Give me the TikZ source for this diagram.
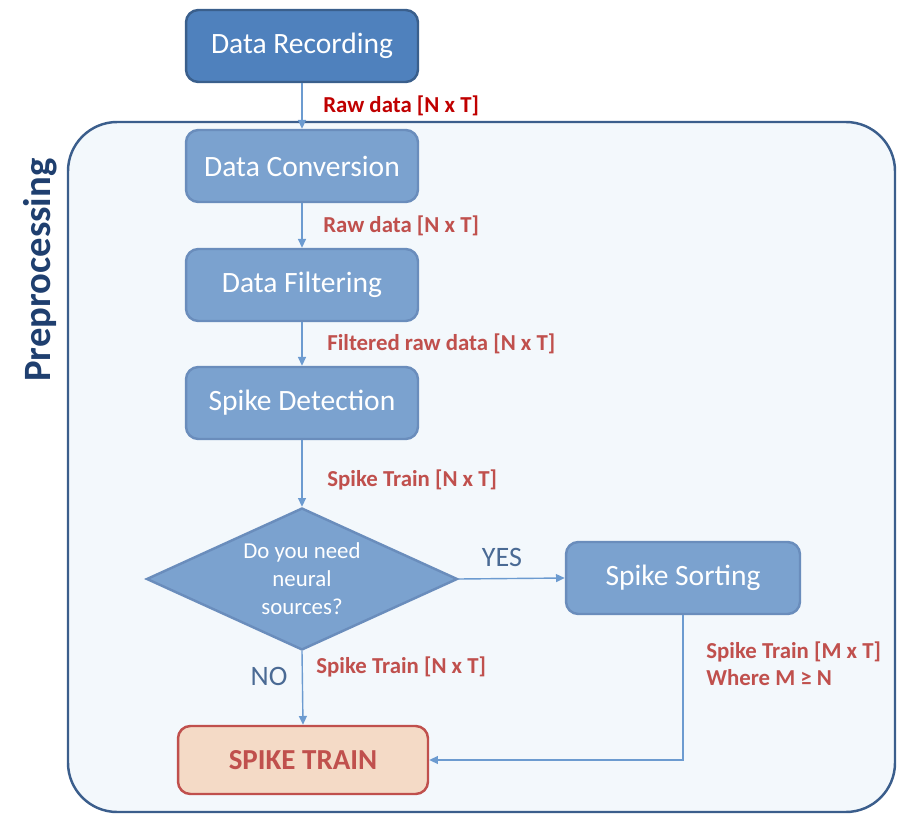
\documentclass[tikz,border=0pt]{standalone}
\usepackage{fontspec}
\setmainfont{Carlito}
\usetikzlibrary{shapes.geometric,arrows.meta}

\definecolor{recblue}{HTML}{4F81BD}
\definecolor{recedge}{HTML}{3A5F8C}
\definecolor{stepblue}{HTML}{7BA2CF}
\definecolor{stepedge}{HTML}{6A8DBC}
\definecolor{boxfill}{HTML}{F3F8FC}
\definecolor{boxedge}{HTML}{3B5E8C}
\definecolor{flowblue}{HTML}{6C9BD0}
\definecolor{datared}{HTML}{C0504D}
\definecolor{darkred}{HTML}{C00000}
\definecolor{answer}{HTML}{4A6A94}
\definecolor{trainfill}{HTML}{F4DAC6}
\definecolor{prepblue}{HTML}{1F3F6F}

\tikzset{
  stage/.style={rectangle, rounded corners=7pt, fill=stepblue, draw=stepedge, line width=1.4pt,
    minimum width=4.64cm, minimum height=1.44cm, text=white, font=\fontsize{16.8}{19}\selectfont},
  datalabel/.style={anchor=west, text=datared, font=\fontsize{13}{15.3}\selectfont\bfseries, align=left, inner sep=0pt},
  answerlabel/.style={text=answer, font=\fontsize{16}{18}\selectfont, inner sep=0pt},
  flow/.style={draw=flowblue, line width=0.8pt, -{Triangle[length=5pt,width=4.5pt]}}
}

\begin{document}
\begin{tikzpicture}[x=0.02cm, y=-0.02cm]
    \useasboundingbox (0,0) rectangle (912,827);

    % Preprocessing frame
    \draw[fill=boxfill, draw=boxedge, line width=1.4pt, rounded corners=28pt] (68,122) rectangle (895,812);
    \node[rotate=90, text=prepblue, font=\fontsize{22}{25}\selectfont\bfseries] (prep) at (40,270) {Preprocessing};

    % Stages
    \node[stage, fill=recblue, draw=recedge] (rec) at (302,46) {Data Recording};
    \node[stage] (conv) at (302,166) {Data Conversion};
    \node[stage] (filt) at (302,285) {Data Filtering};
    \node[stage] (det) at (302,403) {Spike Detection};
    \node[diamond, aspect=2.19, fill=stepblue, draw=stepedge, line width=1.4pt, inner sep=0pt,
      minimum width=6.22cm, minimum height=2.84cm, text=white, align=center,
      font=\fontsize{13}{15.9}\selectfont] (need) at (302,579) {Do you need\\neural\\sources?};
    \node[stage, minimum width=4.68cm] (sort) at (683,578) {Spike Sorting};
    \node[rectangle, rounded corners=7pt, fill=trainfill, draw=datared, line width=1.4pt,
      minimum width=5.0cm, minimum height=1.36cm, text=datared,
      font=\fontsize{16.5}{19}\selectfont\bfseries] (train) at (303,760) {SPIKE TRAIN};

    % Connectors
    \draw[flow] (rec) -- (conv);
    \draw[flow] (conv) -- (filt);
    \draw[flow] (filt) -- (det);
    \draw[flow] (det) -- (need);
    \draw[flow] (need.east) -- (sort.west);
    \draw[flow] (need.south) -- (train.north);
    \draw[flow] (sort.south) |- (train.east);

    % Data labels
    \node[datalabel, text=darkred] (lraw) at (323,106) {Raw data [N x T]};
    \node[datalabel] (lconv) at (323,226) {Raw data [N x T]};
    \node[datalabel] (lfilt) at (327,344) {Filtered raw data [N x T]};
    \node[datalabel] (ldet) at (327,480) {Spike Train [N x T]};
    \node[datalabel] (lno) at (316,667) {Spike Train [N x T]};
    \node[datalabel] (lsort) at (706,664) {Spike Train [M x T]\\Where M ≥ N};
    \node[answerlabel] (yes) at (502,557) {YES};
    \node[answerlabel] (no) at (269,676) {NO};
\end{tikzpicture}
\end{document}
